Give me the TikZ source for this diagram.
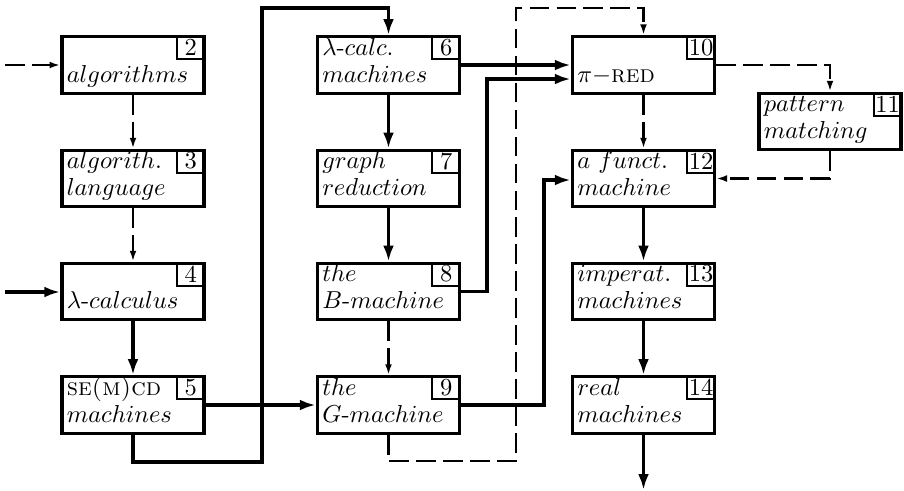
\documentclass[tikz,border=0pt]{standalone}
\usetikzlibrary{arrows.meta}
\begin{document}
\begin{tikzpicture}[x=0.408pt, y=-0.408pt]
\tikzset{
  box/.style={draw, line width=1.4pt, minimum width={142*0.408pt},
              minimum height={56.5*0.408pt}, inner sep=0pt},
  numbox/.style={draw, line width=0.8pt, minimum width={28*0.408pt},
                 minimum height={23*0.408pt}, inner sep=0pt, anchor=north east},
  txt/.style={anchor=base west, inner sep=0pt},
  flow/.style={line width=1.35pt, -{Latex[length=6.5pt,width=4.4pt]}},
  aux/.style={line width=1.05pt, dash pattern=on 8pt off 3pt,
              -{Latex[length=4.4pt,width=2.8pt]}},
}
% a numbered box: name, x, y, number, first line, second line
\newcommand\flowbox[6]{%
  \node[box] (#1) at (#2,#3) {};
  \node[numbox] (#1n) at (#1.north east) {#4};
  \node[txt] (#1a) at ([shift={(6,20)}]#1.north west) {#5};
  \node[txt] (#1b) at ([shift={(6,47)}]#1.north west) {#6};
}
\useasboundingbox (0,0) rectangle (904,490);

% left column
\flowbox{b2}{133}{65}{2}{}{$algorithms$}
\flowbox{b3}{133}{178.5}{3}{$algorith.$}{$language$}
\flowbox{b4}{133}{291.5}{4}{}{$\lambda$-$calculus$}
\flowbox{b5}{133}{405}{5}{\textsc{se(m)cd}}{$machines$}
% middle column
\flowbox{b6}{388.5}{65}{6}{$\lambda$-$calc.$}{$machines$}
\flowbox{b7}{388.5}{178.5}{7}{$graph$}{$reduction$}
\flowbox{b8}{388.5}{291.5}{8}{$the$}{$B$-$machine$}
\flowbox{b9}{388.5}{405}{9}{$the$}{$G$-$machine$}
% right column
\flowbox{b10}{643.5}{65}{10}{}{$\pi{-}$\textsc{red}}
\flowbox{b11}{830}{121.5}{11}{$pattern$}{$matching$}
\flowbox{b12}{643.5}{178.5}{12}{$a\ funct.$}{$machine$}
\flowbox{b13}{643.5}{291.5}{13}{$imperat.$}{$machines$}
\flowbox{b14}{643.5}{405}{14}{$real$}{$machines$}

% routing points
\coordinate (in1) at (5,65);
\coordinate (in2) at (5,292);
\coordinate (lp1) at (262,462);
\coordinate (lp2) at (262,8);
\coordinate (dl1) at (516,461);
\coordinate (dl2) at (516,8);
\coordinate (j1) at (487,79);
\coordinate (j2) at (544,180);
\coordinate (out) at (643.5,490);

% connectors
\draw[aux] (in1) -- (b2.west);
\draw[aux] (b2) -- (b3);
\draw[aux] (b3) -- (b4);
\draw[flow] (in2) -- (in2 -| b4.west);
\draw[flow] (b4) -- (b5);
\draw[flow] (b5.east) -- (b9.west);
\draw[flow] (b5.south) |- (lp1) -- (lp2) -| (b6.north);
\draw[flow] (b6.east) -- (b10.west);
\draw[flow] (b6) -- (b7);
\draw[flow] (b7) -- (b8);
\draw[aux] (b8) -- (b9);
\draw[flow] (b8.east) -| (j1) -- (j1 -| b10.west);
\draw[flow] (b9.east) -| (j2) -- (j2 -| b12.west);
\draw[aux] (b9.south) |- (dl1) -- (dl2) -| (b10.north);
\draw[aux] (b10.east) -| (b11.north);
\draw[aux] (b11.south) |- (b12.east);
\draw[aux] (b10) -- (b12);
\draw[flow] (b12) -- (b13);
\draw[flow] (b13) -- (b14);
\draw[flow] (b14.south) -- (out);
\end{tikzpicture}
\end{document}
